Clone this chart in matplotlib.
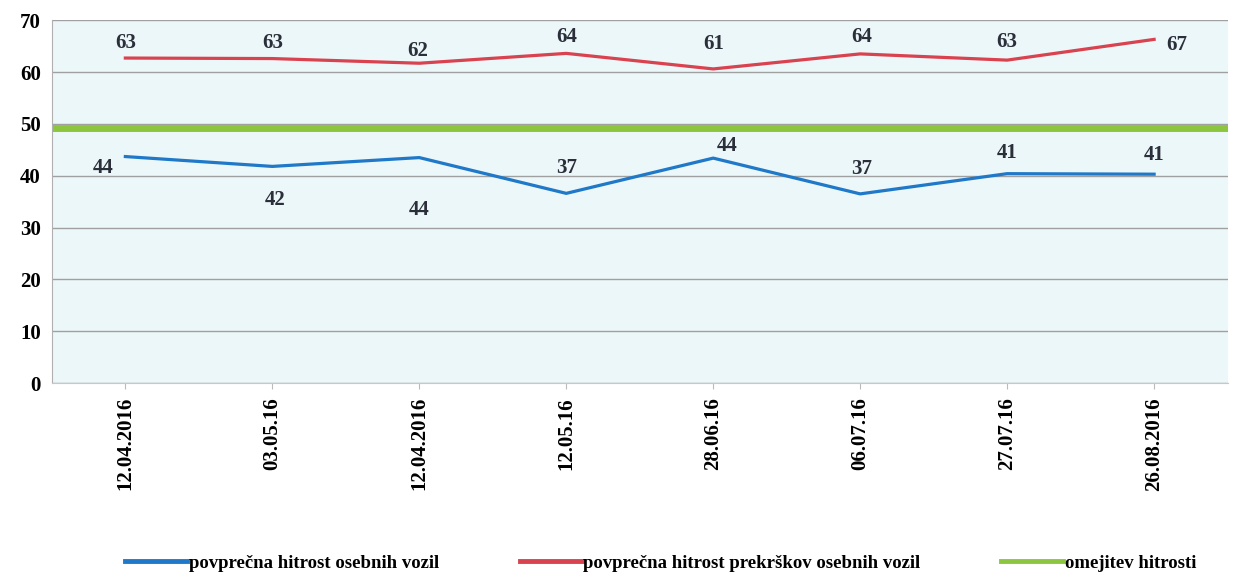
import matplotlib.pyplot as plt
import numpy as np

# podatki
datumi = ['12.04.2016', '03.05.16', '12.04.2016', '12.05.16',
          '28.06.16', '06.07.16', '27.07.16', '26.08.2016']
hitrost_vozil = [43.7, 41.8, 43.5, 36.6, 43.4, 36.5, 40.4, 40.3]
hitrost_prekrskov = [62.7, 62.6, 61.7, 63.6, 60.6, 63.5, 62.3, 66.3]
omejitev = [49.2] * len(datumi)
oznake_vozil = [44, 42, 44, 37, 44, 37, 41, 41]
oznake_prekrskov = [63, 63, 62, 64, 61, 64, 63, 67]

# zamiki oznak (v točkah)
zamik_vozil = [(-16, -8), (2, -24), (0, -38), (0, 18), (10, 9), (1, 18), (0, 15), (0, 14)]
zamik_prekrskov = [(0, 11), (0, 11), (-1, 9), (0, 12), (0, 18), (1, 12), (0, 13), (16, -4)]

plt.rcParams['font.family'] = ['Liberation Serif', 'DejaVu Serif']
plt.rcParams['font.weight'] = 'bold'

fig = plt.figure(figsize=(12.35, 5.77), dpi=100)
ax = fig.add_axes([0.042, 0.336, 0.952, 0.629])
ax.set_facecolor('#ecf7f9')

x = np.arange(len(datumi))
ax.plot(x, hitrost_vozil, color='#1f78c8', lw=2.3, label='povprečna hitrost osebnih vozil', zorder=3)
ax.plot(x, hitrost_prekrskov, color='#d9424f', lw=2.3, label='povprečna hitrost prekrškov osebnih vozil', zorder=3)
ax.plot(np.r_[-0.5, x, len(datumi) - 0.5], [omejitev[0]] + omejitev + [omejitev[0]],
        color='#8cc63f', lw=5, label='omejitev hitrosti', zorder=2)

for i in range(len(datumi)):
    ax.annotate(str(oznake_vozil[i]), (x[i], hitrost_vozil[i]), xytext=zamik_vozil[i],
                textcoords='offset points', ha='center', va='center',
                fontsize=15, fontweight='bold', color='#2b2f3a')
    ax.annotate(str(oznake_prekrskov[i]), (x[i], hitrost_prekrskov[i]), xytext=zamik_prekrskov[i],
                textcoords='offset points', ha='center', va='center',
                fontsize=15, fontweight='bold', color='#2b2f3a')

ax.set_xlim(-0.5, len(datumi) - 0.5)
ax.set_ylim(0, 70)
ax.set_yticks(range(0, 71, 10))
ax.set_xticks(x)
ax.set_xticklabels(datumi, rotation=90, fontsize=15, fontweight='bold')
ax.tick_params(axis='y', labelsize=15, length=0, pad=8)
ax.tick_params(axis='x', length=4, color='#bbbbbb', pad=6)
ax.grid(axis='y', color='#a0a0a0', lw=1)
ax.set_axisbelow(True)
for s in ['top', 'right']:
    ax.spines[s].set_visible(False)
ax.spines['left'].set_color('#b0b0b0')
ax.spines['bottom'].set_color('#c8c8c8')

leg = fig.legend(loc='lower center', bbox_to_anchor=(0.535, -0.02), ncol=3, frameon=False,
                 fontsize=13.5, handlelength=3.3, handletextpad=0.1, columnspacing=4.3)
for h in leg.get_lines():
    h.set_linewidth(3.5)

plt.savefig('out.png', dpi=100)
